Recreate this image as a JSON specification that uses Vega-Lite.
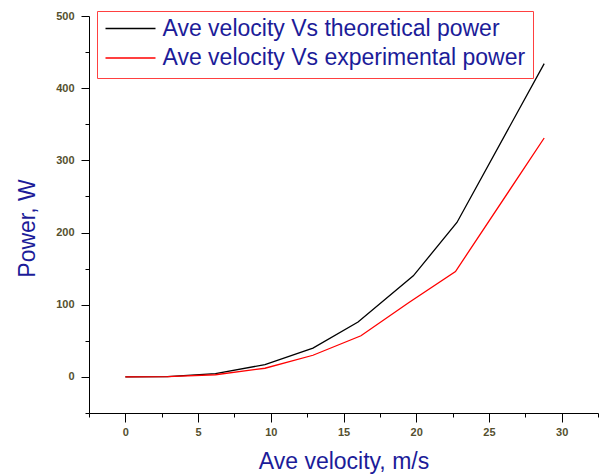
{
  "$schema": "https://vega.github.io/schema/vega-lite/v6.json",
  "width": 509,
  "height": 397,
  "autosize": {"type": "none"},
  "padding": {"left": 89, "top": 16, "right": 9, "bottom": 61},
  "background": "white",
  "config": {"view": {"stroke": null}, "font": "Liberation Sans"},
  "data": {
    "values": [
      {"series": "Ave velocity Vs theoretical power", "v": 0, "p": 0},
      {"series": "Ave velocity Vs theoretical power", "v": 2.9, "p": 0.5},
      {"series": "Ave velocity Vs theoretical power", "v": 6.2, "p": 4.5},
      {"series": "Ave velocity Vs theoretical power", "v": 9.6, "p": 17},
      {"series": "Ave velocity Vs theoretical power", "v": 12.9, "p": 40},
      {"series": "Ave velocity Vs theoretical power", "v": 16.0, "p": 76},
      {"series": "Ave velocity Vs theoretical power", "v": 19.8, "p": 140},
      {"series": "Ave velocity Vs theoretical power", "v": 22.8, "p": 214},
      {"series": "Ave velocity Vs theoretical power", "v": 28.8, "p": 434},
      {"series": "Ave velocity Vs experimental power", "v": 0, "p": 0},
      {"series": "Ave velocity Vs experimental power", "v": 2.9, "p": 0.4},
      {"series": "Ave velocity Vs experimental power", "v": 6.2, "p": 3},
      {"series": "Ave velocity Vs experimental power", "v": 9.6, "p": 12},
      {"series": "Ave velocity Vs experimental power", "v": 12.9, "p": 30},
      {"series": "Ave velocity Vs experimental power", "v": 16.2, "p": 57},
      {"series": "Ave velocity Vs experimental power", "v": 19.5, "p": 103},
      {"series": "Ave velocity Vs experimental power", "v": 22.7, "p": 146},
      {"series": "Ave velocity Vs experimental power", "v": 28.8, "p": 331}
    ]
  },
  "layer": [
    {
      "mark": {"type": "line", "strokeWidth": 1.3},
      "encoding": {
        "x": {
          "field": "v", "type": "quantitative",
          "scale": {"domain": [-2.5, 32.5], "nice": false, "zero": false},
          "axis": {
            "orient": "bottom",
            "values": [0, 5, 10, 15, 20, 25, 30],
            "title": "Ave velocity, m/s",
            "grid": false,
            "tickSize": 9,
            "tickColor": "black",
            "domainColor": "black",
            "labelFontSize": 11,
            "labelFontWeight": "bold",
            "labelColor": "#55502f",
            "labelPadding": 4,
            "titleFontSize": 23,
            "titleFontWeight": "normal",
            "titleColor": "#1c1c99",
            "titleY": 55,
            "titleBaseline": "alphabetic"
          }
        },
        "y": {
          "field": "p", "type": "quantitative",
          "scale": {"domain": [-50, 500], "nice": false, "zero": false},
          "axis": {
            "orient": "left",
            "values": [0, 100, 200, 300, 400, 500],
            "title": "Power, W",
            "grid": false,
            "tickSize": 8,
            "tickColor": "black",
            "domainColor": "black",
            "labelFontSize": 11,
            "labelFontWeight": "bold",
            "labelColor": "#55502f",
            "labelPadding": 7,
            "titleFontSize": 23,
            "titleFontWeight": "normal",
            "titleColor": "#1c1c99",
            "titleAngle": -90,
            "titleBaseline": "top",
            "titleX": -73,
            "titleY": 212
          }
        },
        "color": {
          "field": "series", "type": "nominal",
          "scale": {
            "domain": ["Ave velocity Vs theoretical power", "Ave velocity Vs experimental power"],
            "range": ["black", "red"]
          },
          "legend": {
            "title": null,
            "orient": "none",
            "legendX": 8,
            "legendY": -5,
            "symbolType": "stroke",
            "symbolSize": 2500,
            "clipHeight": 20,
            "symbolStrokeWidth": 1.5,
            "labelFontSize": 23,
            "labelColor": "#1c1c99",
            "labelOffset": 6,
            "labelLimit": 0,
            "rowPadding": 6.5,
            "padding": 7.5,
            "strokeColor": "#ff4040",
            "fillColor": "white"
          }
        }
      }
    },
    {
      "mark": {"type": "line", "opacity": 0},
      "encoding": {
        "x": {
          "field": "v", "type": "quantitative",
          "scale": {"domain": [-2.5, 32.5], "nice": false, "zero": false},
          "axis": {
            "orient": "bottom",
            "values": [-2.5, 2.5, 7.5, 12.5, 17.5, 22.5, 27.5, 32.5],
            "labels": false,
            "title": null,
            "grid": false,
            "domain": false,
            "tickSize": 4,
            "tickColor": "black"
          }
        },
        "y": {
          "field": "p", "type": "quantitative",
          "scale": {"domain": [-50, 500], "nice": false, "zero": false},
          "axis": {
            "orient": "left",
            "values": [-50, 50, 150, 250, 350, 450],
            "labels": false,
            "title": null,
            "grid": false,
            "domain": false,
            "tickSize": 4,
            "tickColor": "black"
          }
        },
        "detail": {"field": "series"}
      }
    }
  ],
  "resolve": {"axis": {"x": "independent", "y": "independent"}}
}
